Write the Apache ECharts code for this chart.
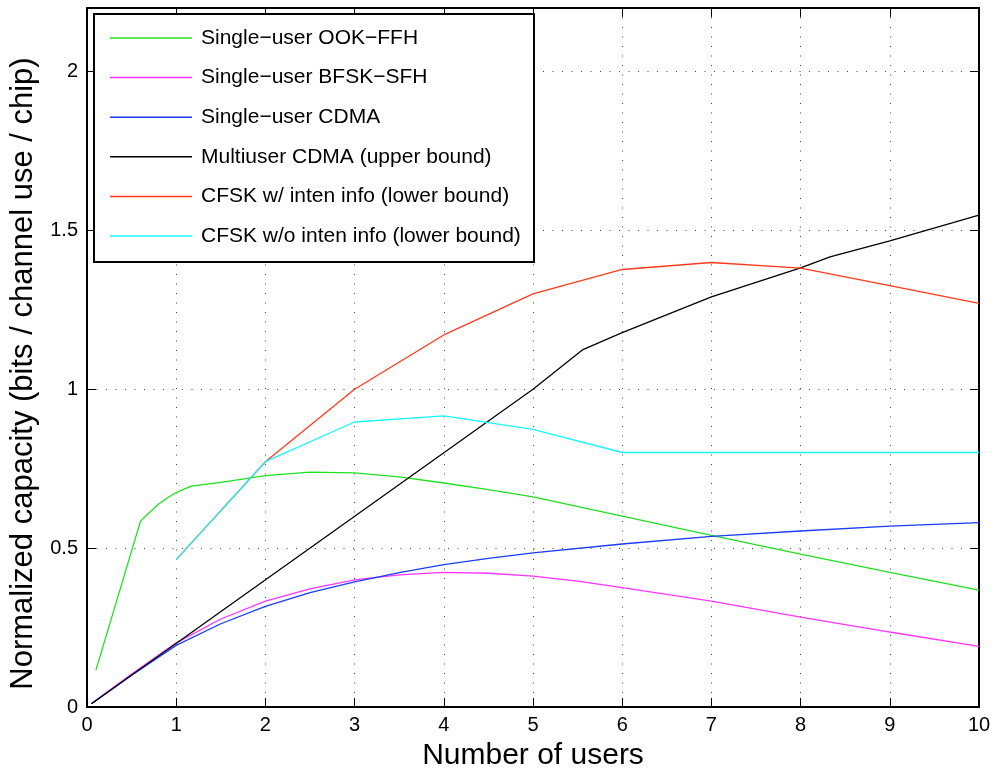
<!DOCTYPE html>
<html>
<head>
<meta charset="utf-8">
<script src="https://cdn.jsdelivr.net/npm/echarts@6/dist/echarts.min.js"></script>
<style>
  html, body { margin: 0; padding: 0; background: #fff; }
  #chart { width: 998px; height: 776px; }
</style>
</head>
<body>
<div id="chart"></div>
<script>
// Capacity vs. number of users for several signalling schemes
const seriesNames = [
  'Single\u2212user OOK\u2212FFH',
  'Single\u2212user BFSK\u2212SFH',
  'Single\u2212user CDMA',
  'Multiuser CDMA (upper bound)',
  'CFSK w/ inten info (lower bound)',
  'CFSK w/o inten info (lower bound)'
];

const ookX = [0.1, 0.6, 0.7, 0.8, 0.9, 1.0, 1.17, 1.5, 2, 2.5, 3, 3.5, 4, 4.5, 5, 6, 7, 8, 9, 10];
const ookY = [0.116, 0.585, 0.612, 0.638, 0.658, 0.675, 0.695, 0.707, 0.728, 0.739, 0.737, 0.724, 0.705, 0.684, 0.661, 0.601, 0.540, 0.481, 0.424, 0.368];

const bfskX = [0.05, 0.5, 1, 1.5, 2, 2.5, 3, 3.5, 4, 4.5, 5, 5.5, 6, 7, 8, 9, 10];
const bfskY = [0.011, 0.104, 0.202, 0.277, 0.333, 0.372, 0.400, 0.416, 0.424, 0.421, 0.412, 0.396, 0.376, 0.333, 0.283, 0.236, 0.191];

const cdmaX = [0.05, 0.5, 1, 1.5, 2, 2.5, 3, 3.5, 4, 4.5, 5, 6, 7, 8, 9, 10];
const cdmaY = [0.010, 0.100, 0.194, 0.262, 0.317, 0.360, 0.394, 0.423, 0.448, 0.468, 0.485, 0.513, 0.537, 0.554, 0.569, 0.580];

const multiX = [0.05, 5, 5.56, 6, 7, 8, 8.33, 9, 10];
const multiY = [0.010, 1.000, 1.125, 1.178, 1.291, 1.382, 1.417, 1.467, 1.548];

const cfskInfoX = [1, 2, 3, 4, 5, 6, 7, 8, 9, 10];
const cfskInfoY = [0.464, 0.772, 1.000, 1.171, 1.300, 1.377, 1.399, 1.381, 1.326, 1.270];

const cfskNoInfoX = [1, 2, 3, 4, 5, 6, 7, 8, 9, 10];
const cfskNoInfoY = [0.464, 0.772, 0.897, 0.916, 0.874, 0.801, 0.801, 0.801, 0.801, 0.801];

const seriesColors = ['#1fe01f', '#ff33ff', '#1a3cff', '#000000', '#ff3a1c', '#19f5ff'];

const xTicks = [0, 1, 2, 3, 4, 5, 6, 7, 8, 9, 10];
const yTicks = [0, 0.5, 1, 1.5, 2];

function pairs(xs, ys) { return xs.map((x, i) => [x, ys[i]]); }

const lineData = [
  pairs(ookX, ookY),
  pairs(bfskX, bfskY),
  pairs(cdmaX, cdmaY),
  pairs(multiX, multiY),
  pairs(cfskInfoX, cfskInfoY),
  pairs(cfskNoInfoX, cfskNoInfoY)
];

const FONT = '"Liberation Sans", Arial, Helvetica, sans-serif';
const dotted = { color: '#444', width: 1, type: [1, 8.5] };

const chart = echarts.init(document.getElementById('chart'), null, { renderer: 'canvas' });

const tickLabel = (ticks) => (v) => {
  const hit = ticks.find(t => Math.abs(t - v) < 1e-9);
  return hit === undefined ? '' : String(hit);
};

chart.setOption({
  animation: false,
  backgroundColor: '#fff',
  grid: { left: 87, right: 19, top: 8, bottom: 67, containLabel: false },
  xAxis: [
    {
      type: 'value', min: 0, max: 10, interval: 1, position: 'bottom',
      name: 'Number of users', nameLocation: 'middle', nameGap: 34,
      nameTextStyle: { fontFamily: FONT, fontSize: 30, color: '#000' },
      axisLine: { show: true, lineStyle: { color: '#000', width: 2 } },
      axisTick: { show: true, inside: true, length: 9, lineStyle: { color: '#000', width: 1 } },
      axisLabel: { fontFamily: FONT, fontSize: 20, color: '#000', margin: 8, formatter: tickLabel(xTicks) },
      splitLine: { show: true, lineStyle: dotted }
    },
    {
      type: 'value', min: 0, max: 10, interval: 1, position: 'top',
      axisLine: { show: true, onZero: false, lineStyle: { color: '#000', width: 2 } },
      axisTick: { show: true, inside: true, length: 9, lineStyle: { color: '#000', width: 1 } },
      axisLabel: { show: false },
      splitLine: { show: false }
    }
  ],
  yAxis: [
    {
      type: 'value', min: 0, max: 2.2, interval: 0.5, position: 'left',
      name: 'Normalized capacity (bits / channel use / chip)', nameLocation: 'middle', nameGap: 35,
      nameTextStyle: { fontFamily: FONT, fontSize: 31, color: '#000', padding: [0, 32, 0, 0] },
      axisLine: { show: true, lineStyle: { color: '#000', width: 2 } },
      axisTick: { show: true, inside: true, length: 9, lineStyle: { color: '#000', width: 1 } },
      axisLabel: { fontFamily: FONT, fontSize: 20, color: '#000', margin: 9, showMaxLabel: false, formatter: tickLabel(yTicks) },
      splitLine: { show: true, lineStyle: dotted }
    },
    {
      type: 'value', min: 0, max: 2.2, interval: 0.5, position: 'right',
      axisLine: { show: true, onZero: false, lineStyle: { color: '#000', width: 2 } },
      axisTick: { show: true, inside: true, length: 9, lineStyle: { color: '#000', width: 1 } },
      axisLabel: { show: false },
      splitLine: { show: false }
    }
  ],
  graphic: [
    {
      type: 'rect', left: 93, top: 13, z: 3,
      shape: { width: 440, height: 248 },
      style: { fill: '#fff', stroke: '#000', lineWidth: 2 }
    }
  ],
  legend: {
    show: true, orient: 'vertical', left: 110, top: 26, padding: 0,
    icon: 'rect', itemWidth: 82, itemHeight: 1.5, itemGap: 15.6, z: 5,
    textStyle: { fontFamily: FONT, fontSize: 21, color: '#000', lineHeight: 24, padding: [0, 0, 0, 4] },
    data: seriesNames
  },
  series: seriesNames.map((name, i) => ({
    name: name,
    type: 'line',
    xAxisIndex: 0, yAxisIndex: 0,
    data: lineData[i],
    symbol: 'none',
    showSymbol: false,
    smooth: false,
    lineStyle: { color: seriesColors[i], width: 1.3 },
    itemStyle: { color: seriesColors[i] },
    z: 2
  }))
});
</script>
</body>
</html>
